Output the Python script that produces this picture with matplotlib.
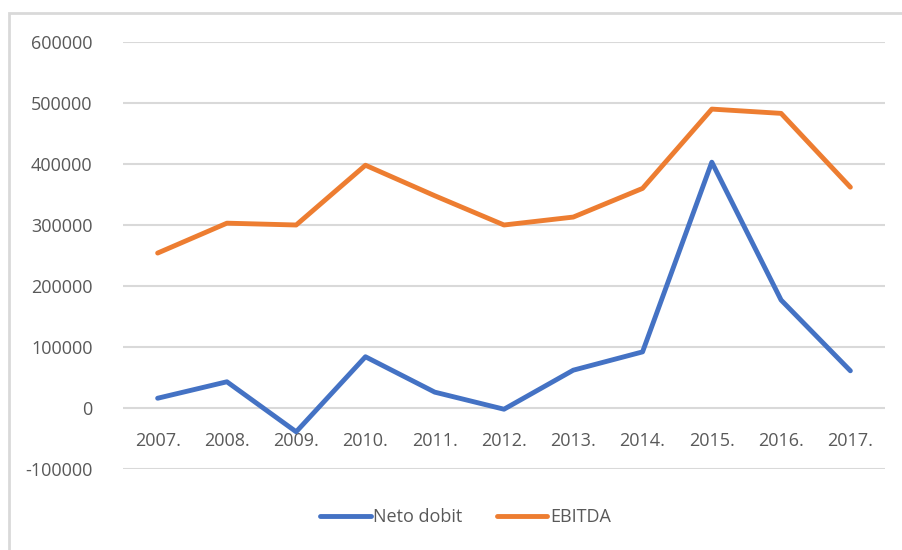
import matplotlib.pyplot as plt
from matplotlib.patches import Rectangle

years = ['2007.', '2008.', '2009.', '2010.', '2011.', '2012.',
         '2013.', '2014.', '2015.', '2016.', '2017.']
neto_dobit = [16000, 43000, -39000, 84000, 26000, -2000,
              62000, 92000, 403000, 177000, 61000]
ebitda = [254000, 303000, 300000, 398000, 348000, 300000,
          313000, 360000, 490000, 483000, 362000]
y_ticks = [-100000, 0, 100000, 200000, 300000, 400000, 500000, 600000]

plt.rcParams['font.family'] = ['Open Sans', 'DejaVu Sans']
text_color = '#595959'
grid_color = '#D9D9D9'

fig = plt.figure(figsize=(9.02, 5.5), dpi=100)
ax = fig.add_axes([123 / 902, 1 - 469 / 550, 762 / 902, 427 / 550])

x = list(range(len(years)))
ax.plot(x, neto_dobit, color='#4472C4', linewidth=3.5, label='Neto dobit',
        solid_capstyle='round', solid_joinstyle='round')
ax.plot(x, ebitda, color='#ED7D31', linewidth=3.5, label='EBITDA',
        solid_capstyle='round', solid_joinstyle='round')

ax.set_xlim(-0.5, len(years) - 0.5)
ax.set_ylim(-100000, 600000)
ax.set_yticks(y_ticks)
ax.set_yticklabels([str(v) for v in y_ticks])
ax.yaxis.grid(True, color=grid_color, linewidth=1.5)
ax.set_axisbelow(True)

# category labels sit just under the zero line, like Excel
ax.set_xticks(x)
ax.set_xticklabels(years)
ax.spines['bottom'].set_position(('data', 0))
for s in ax.spines.values():
    s.set_visible(False)
ax.tick_params(axis='x', length=0, pad=17, labelsize=13, labelcolor=text_color)
ax.tick_params(axis='y', length=0, pad=22, labelsize=13, labelcolor=text_color)

leg = fig.legend(loc='center', bbox_to_anchor=(0.516, 0.06), ncol=2,
                 frameon=False, fontsize=13, handlelength=2.8,
                 columnspacing=1.9, handletextpad=0.15)
for t in leg.get_texts():
    t.set_color(text_color)

# outer chart border (cropped at right and bottom)
fig.patches.append(Rectangle((9 / 902, -0.05), 1.2, 1 - 13 / 550 + 0.05,
                             transform=fig.transFigure, fill=False,
                             edgecolor=grid_color, linewidth=2))

fig.savefig('out.png', dpi=100)
